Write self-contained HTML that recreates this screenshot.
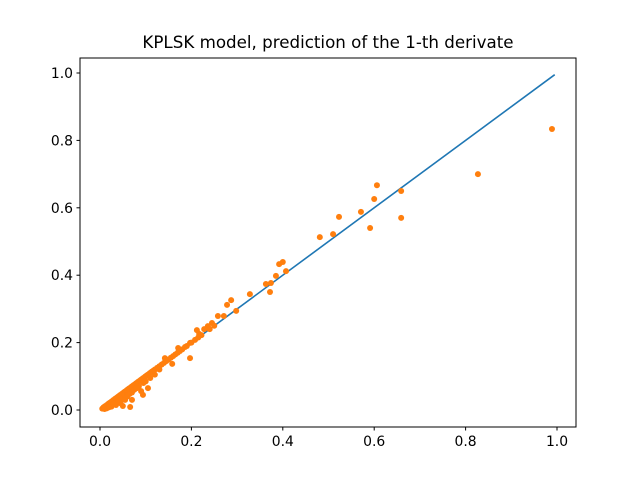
<!DOCTYPE html>
<html><head><meta charset="utf-8"><style>
body{margin:0;background:#fff}
svg{display:block;font-family:"DejaVu Sans","Liberation Sans",sans-serif}
</style></head><body>
<svg id="chart" width="640" height="480">
<rect width="640" height="480" fill="#fff"/>
<text x="328" y="48" text-anchor="middle" font-size="16.7" fill="#000">KPLSK model, prediction of the 1-th derivate</text>
<g id="plot"></g>
<rect x="80" y="58" width="496" height="369" fill="none" stroke="#000" stroke-width="1"/>
<g id="axes"></g>
</svg>
<script>
const xTicks=[0.0,0.2,0.4,0.6,0.8,1.0];
const yTicks=[0.0,0.2,0.4,0.6,0.8,1.0];
const lineX=[0.0,0.995];
const lineY=[0.0,0.995];
const ptX=[0.989,0.827,0.606,0.659,0.600,0.571,0.591,0.659,0.523,0.510,0.481,0.407,0.400,0.392,0.385,0.363,0.372,0.374,0.328,0.298,0.287,0.278,0.271,0.258,0.245,0.236,0.228,0.217,0.212,0.197,0.197,0.186,0.171,0.158,0.142,0.105,0.094,0.090,0.066,0.070,0.050,
0.005,0.008,0.010,0.012,0.015,0.018,0.020,0.022,0.025,0.028,0.030,0.033,0.035,0.038,0.040,0.043,0.045,0.048,0.050,0.053,0.055,0.058,0.060,0.063,0.065,0.068,0.070,0.073,0.075,0.078,0.080,0.083,0.085,0.088,0.090,0.093,0.095,0.098,0.100,0.103,0.105,0.108,0.110,0.113,0.115,0.118,0.120,0.125,0.130,0.135,0.140,0.145,0.150,0.155,0.160,0.165,0.170,0.175,0.180,0.190,0.200,0.208,0.215,0.222,0.240,0.250,
0.015,0.020,0.025,0.030,0.035,0.040,0.045,0.050,0.055,0.060,0.065,0.070,0.075,0.080,0.085,0.095,0.100,0.110,0.120,0.130,0.025,0.035,0.045,0.055,0.040,0.060,0.080,0.030,0.010,0.020];
const ptY=[0.834,0.700,0.667,0.650,0.626,0.588,0.540,0.570,0.573,0.522,0.513,0.412,0.439,0.433,0.398,0.374,0.350,0.377,0.344,0.294,0.326,0.312,0.279,0.279,0.258,0.249,0.240,0.226,0.237,0.154,0.199,0.187,0.184,0.137,0.154,0.065,0.045,0.056,0.009,0.030,0.012,
0.004,0.008,0.010,0.012,0.015,0.018,0.020,0.022,0.025,0.028,0.030,0.033,0.035,0.038,0.040,0.043,0.045,0.048,0.050,0.053,0.055,0.058,0.060,0.063,0.065,0.068,0.070,0.073,0.075,0.078,0.080,0.083,0.085,0.088,0.090,0.093,0.095,0.098,0.100,0.103,0.105,0.108,0.110,0.113,0.115,0.118,0.120,0.125,0.130,0.135,0.140,0.145,0.150,0.155,0.160,0.165,0.170,0.175,0.180,0.190,0.200,0.208,0.215,0.222,0.240,0.250,
0.005,0.010,0.014,0.018,0.022,0.026,0.030,0.034,0.040,0.045,0.048,0.052,0.060,0.065,0.070,0.080,0.085,0.095,0.105,0.120,0.010,0.015,0.020,0.030,0.025,0.040,0.065,0.018,0.003,0.008];
const NS="http://www.w3.org/2000/svg";
function sx(v){return 100+v*457;}
function sy(v){return 410-v*337;}
const plot=document.getElementById('plot'),axes=document.getElementById('axes');
function mk(t,a,p){const e=document.createElementNS(NS,t);for(const k in a)e.setAttribute(k,a[k]);p.appendChild(e);return e;}
const ln=mk('line',{x1:sx(lineX[0]),y1:sy(lineY[0]),x2:sx(lineX[1]),y2:sy(lineY[1]),stroke:'#1f77b4','stroke-width':1.6},plot);


for(let i=0;i<ptX.length;i++){
 const c=mk('circle',{cx:sx(ptX[i]),cy:sy(ptY[i]),r:3,fill:'#ff7f0e'},plot);
 
 
}
xTicks.forEach(v=>{
 const t=mk('line',{x1:sx(v),y1:427,x2:sx(v),y2:430.5,stroke:'#000'},axes);
 
 
 const l=mk('text',{x:sx(v),y:446,'text-anchor':'middle','font-size':13.9},axes);
 l.textContent=v.toFixed(1);
 
 
});
yTicks.forEach(v=>{
 const t=mk('line',{x1:76.5,y1:sy(v),x2:80,y2:sy(v),stroke:'#000'},axes);
 
 
 const l=mk('text',{x:73,y:sy(v)+5,'text-anchor':'end','font-size':13.9},axes);
 l.textContent=v.toFixed(1);
 
 
});
</script>
</body></html>
